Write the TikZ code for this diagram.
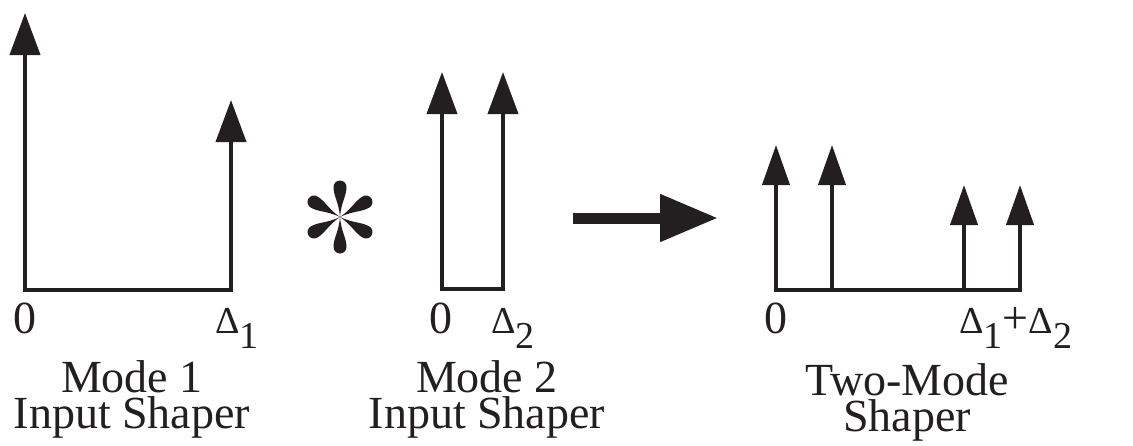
\documentclass[tikz,border=0pt]{standalone}
\usepackage{fontspec}
\setmainfont{Liberation Serif}
\usetikzlibrary{arrows.meta}
\definecolor{ink}{HTML}{231F20}
% delta with a lowered index
\newcommand{\dlt}[1]{{\fontsize{19}{19}\selectfont Δ}\raisebox{-7.5pt}{\fontsize{19}{19}\selectfont #1}}

\begin{document}
\begin{tikzpicture}[x=0.5pt, y=-0.5pt, line join=miter, font=\fontsize{23}{18}\selectfont,
    >={Triangle[length=21pt,width=15pt]},
    pulse/.style={draw=ink, line width=2pt},
    lbl/.style={anchor=base, text=ink, inner sep=0pt, align=center}]
  \useasboundingbox (0,0) rectangle (1133,445);

  % Mode 1 input shaper
  \coordinate (o1) at (25,290);
  \coordinate (e1) at (231,290);
  \draw[pulse,<->] (25,13) -- (o1) -- (e1) -- (231,100);
  \node[lbl] (zero1) at (25,333) {0};
  \node[lbl, anchor=base west] (del1) at (215,333) {\dlt{1}};
  \node[lbl] (name1) at (132,428) {Mode 1\\Input Shaper};

  % convolution star, six teardrops
  \coordinate (conv) at (340,217);
  \foreach \a in {90,30,-30,-90,-150,150}
    \fill[ink, shift={(conv)}, rotate=\a] (0,0) .. controls (14,1) and (21,6.5) .. (30,6.5)
      arc[start angle=90, end angle=-90, radius=6.5] .. controls (21,-6.5) and (14,-1) .. (0,0);

  % Mode 2 input shaper
  \coordinate (o2) at (442,289);
  \coordinate (e2) at (503,289);
  \draw[pulse,<->] (442,72) -- (o2) -- (e2) -- (503,72);
  \node[lbl] (zero2) at (441,333) {0};
  \node[lbl, anchor=base west] (del2) at (491,333) {\dlt{2}};
  \node[lbl] (name2) at (487,428) {Mode 2\\Input Shaper};

  % result
  \coordinate (go) at (573,218);
  \coordinate (to) at (718,218);
  \draw[ink, line width=5.5pt, -{Triangle[length=29pt,width=22.5pt]}] (go) -- (to);

  % two-mode shaper
  \begin{scope}[>={Triangle[length=20pt,width=13.5pt]}]
    \coordinate (o3) at (776,290);
    \coordinate (e3) at (1020,290);
    \draw[pulse,<->] (776,145) -- (o3) -- (e3) -- (1020,185);
    \draw[pulse,->] (832,290) -- (832,145);
    \draw[pulse,->] (964,290) -- (964,185);
  \end{scope}
  \node[lbl] (zero3) at (776,333) {0};
  \node[lbl, anchor=base west] (del3) at (959,333) {\dlt{1}+\dlt{2}};
  \node[lbl] (name3) at (907,431) {Two-Mode\\Shaper};
\end{tikzpicture}
\end{document}
